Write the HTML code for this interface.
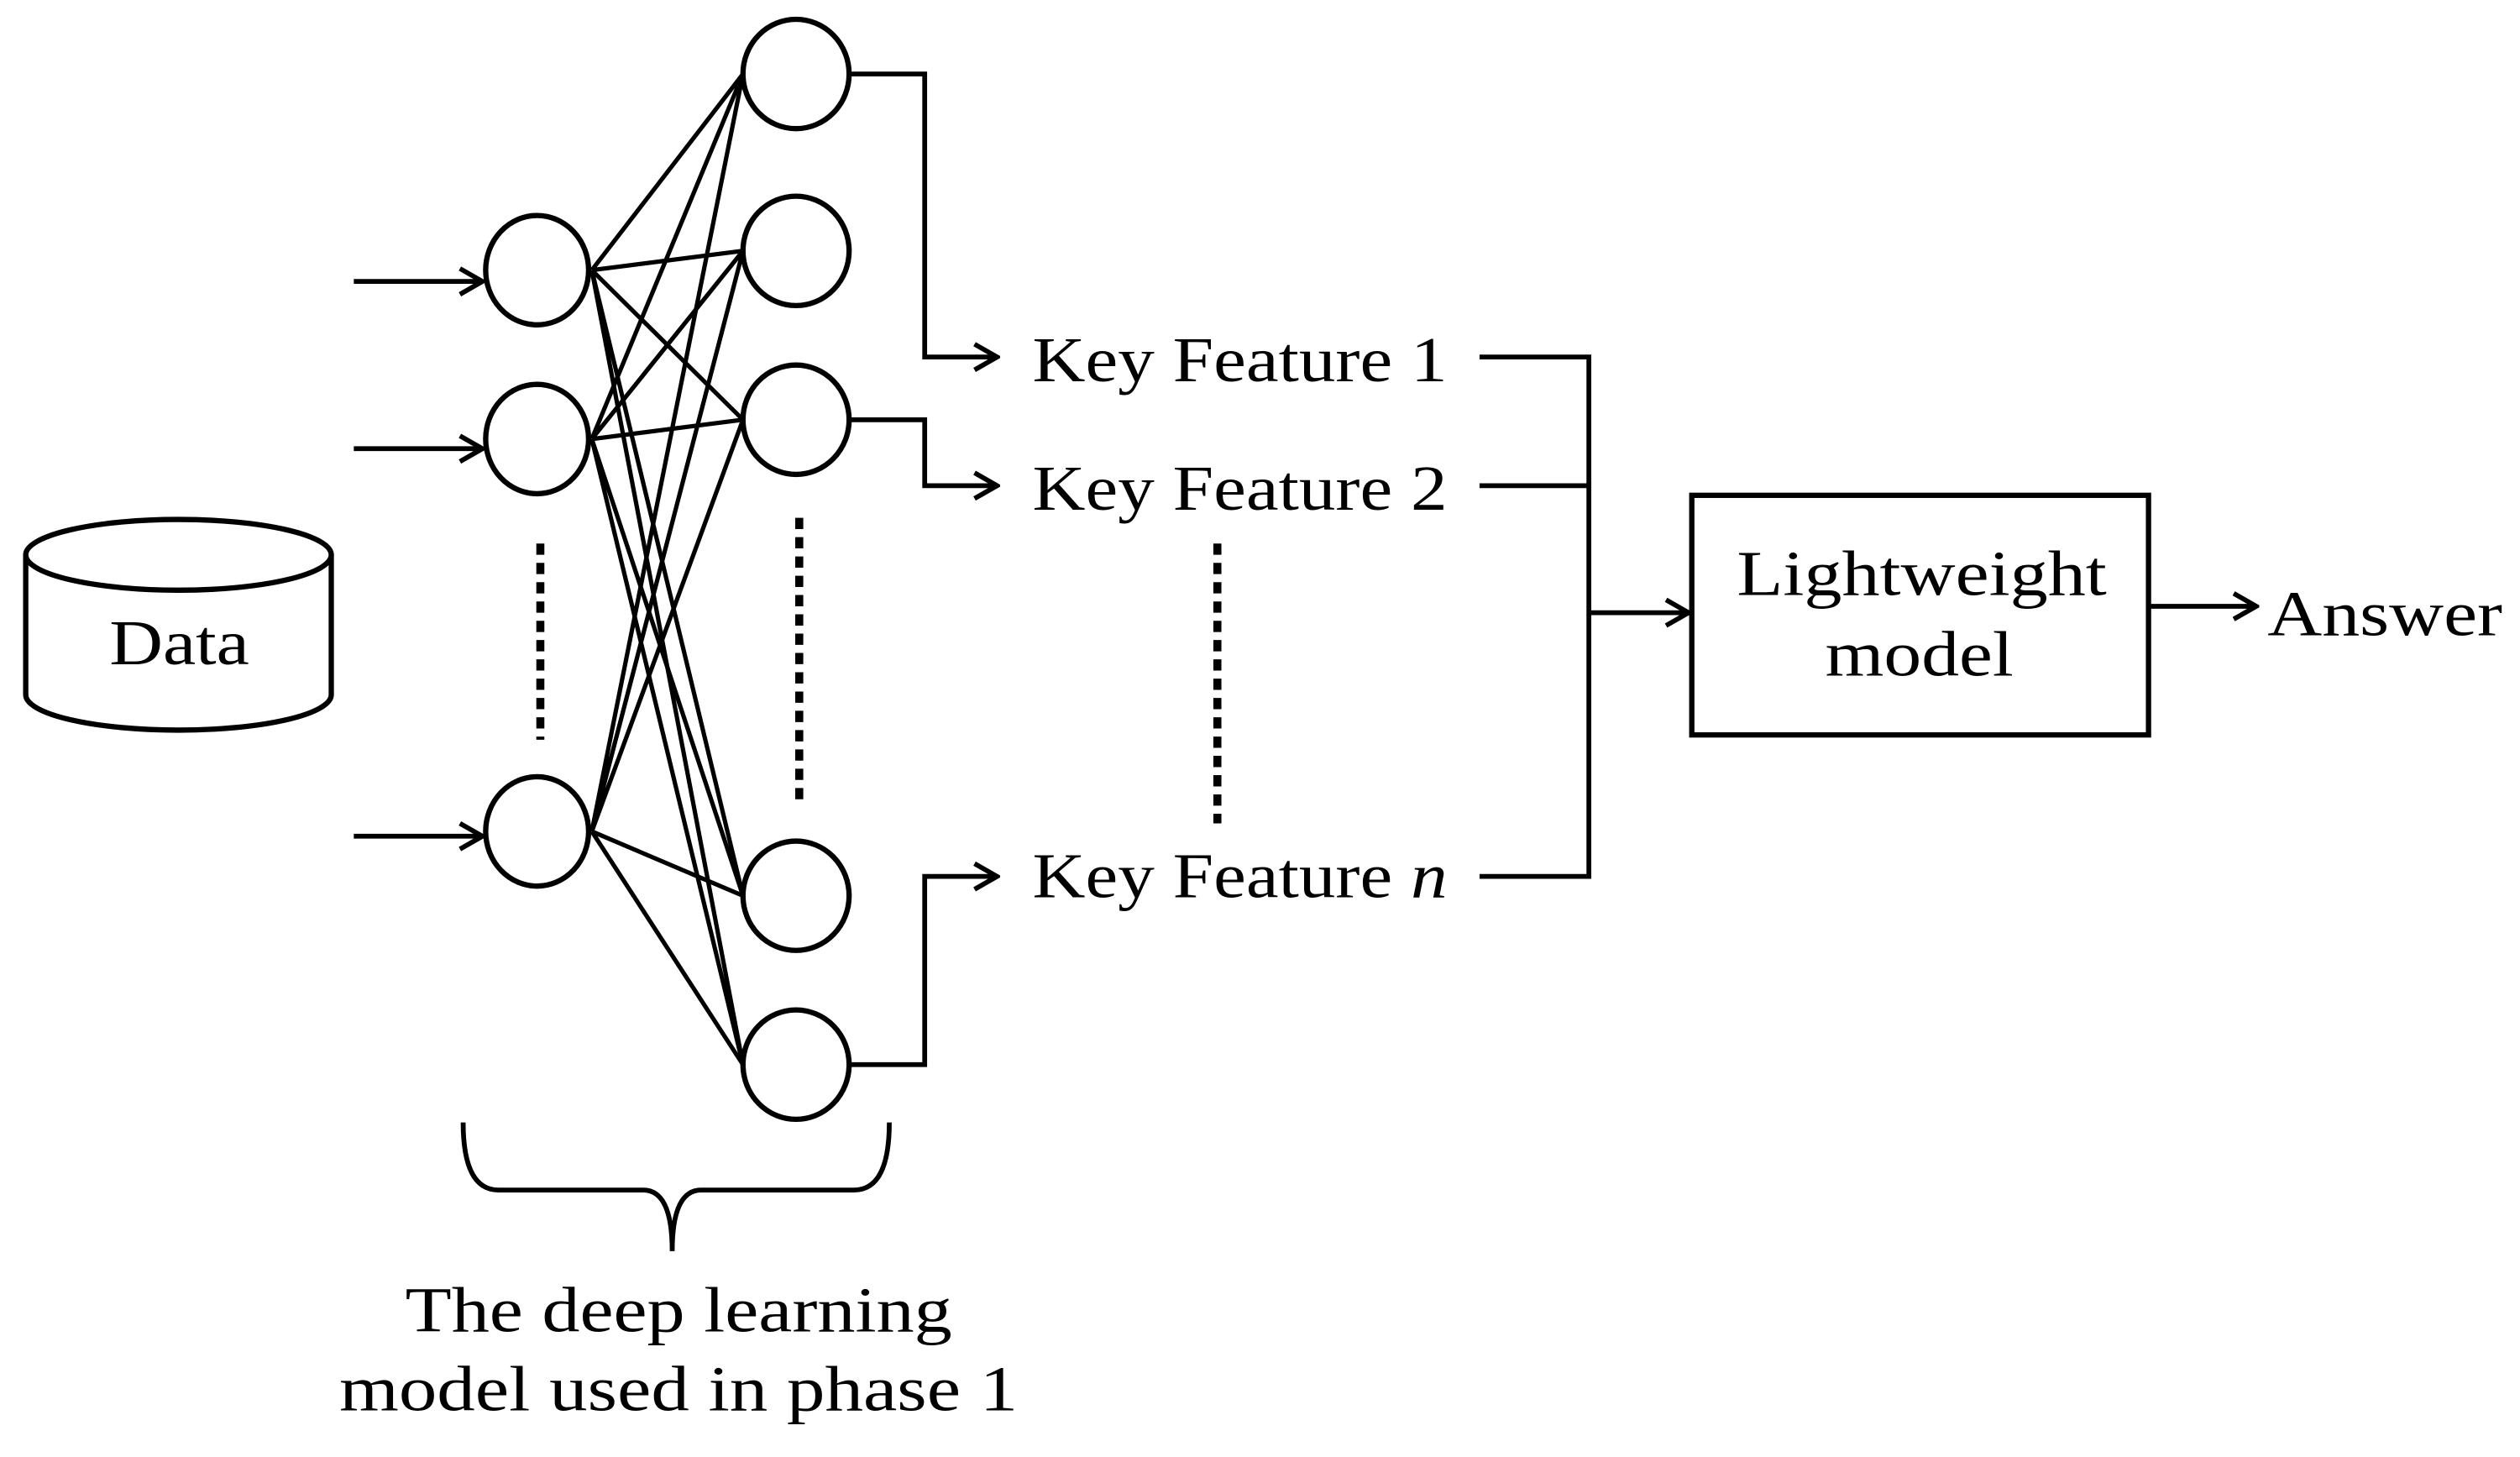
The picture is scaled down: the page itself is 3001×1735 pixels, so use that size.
<!DOCTYPE html>
<html><head><style>html,body{margin:0;padding:0;background:#fff}svg{display:block}</style></head>
<body>
<svg width="3001" height="1735" viewBox="0 0 1567 906" preserveAspectRatio="none" xmlns="http://www.w3.org/2000/svg">
<defs><marker id="a" viewBox="0 0 20 20" refX="18" refY="10" markerWidth="20" markerHeight="20" markerUnits="userSpaceOnUse" orient="auto"><path d="M4 2 L18 10 L4 18" fill="none" stroke="#000" stroke-width="3"/></marker></defs>
<g stroke="#000" stroke-width="3" fill="none">
<line x1="220" y1="175" x2="300" y2="175" marker-end="url(#a)"/>
<line x1="220" y1="279" x2="300" y2="279" marker-end="url(#a)"/>
<line x1="220" y1="520" x2="300" y2="520" marker-end="url(#a)"/>
<g stroke-width="2.7">
<path d="M368 168 L462 46 M368 168 L462 156 M368 168 L462 261 M368 168 L462 557 M368 168 L462 662"/>
<path d="M368 273 L462 46 M368 273 L462 156 M368 273 L462 261 M368 273 L462 557 M368 273 L462 662"/>
<path d="M368 517 L462 46 M368 517 L462 156 M368 517 L462 261 M368 517 L462 557 M368 517 L462 662"/>
</g>
<g fill="#fff" stroke-width="3.3">
<ellipse cx="334" cy="168" rx="32" ry="34"/>
<ellipse cx="334" cy="273" rx="32" ry="34"/>
<ellipse cx="334" cy="517" rx="32" ry="34"/>
<ellipse cx="495" cy="46" rx="33" ry="34"/>
<ellipse cx="495" cy="156" rx="33" ry="34"/>
<ellipse cx="495" cy="261" rx="33" ry="34"/>
<ellipse cx="495" cy="557" rx="33" ry="34"/>
<ellipse cx="495" cy="662" rx="33" ry="34"/>
</g>
<g stroke-width="5" stroke-dasharray="7 5">
<line x1="336" y1="338" x2="336" y2="460"/>
<line x1="497" y1="322" x2="497" y2="498"/>
<line x1="757" y1="338" x2="757" y2="512"/>
</g>
<path d="M528 46 H575 V222 H620" marker-end="url(#a)"/>
<path d="M528 261 H575 V302 H620" marker-end="url(#a)"/>
<path d="M528 662 H575 V545 H620" marker-end="url(#a)"/>
<path d="M920 222 H988 V545 H920 M920 302 H988"/>
<line x1="988" y1="381" x2="1050" y2="381" marker-end="url(#a)"/>
<rect x="1052" y="308" width="284" height="149" stroke-width="3.3"/>
<line x1="1336" y1="377" x2="1403" y2="377" marker-end="url(#a)"/>
<path d="M16 345 V432 A95 22 0 0 0 206 432 V345" fill="#fff" stroke-width="3.3"/>
<ellipse cx="111" cy="345" rx="95" ry="22" fill="#fff" stroke-width="3.3"/>
<path d="M288 698 Q288 740 310 740 H400 Q418 740 418 778 Q418 740 436 740 H531 Q553 740 553 698"/>
</g>
<g font-family="'Liberation Serif', serif" font-size="40" fill="#000" lengthAdjust="spacingAndGlyphs">
<text x="642" y="237" textLength="258" lengthAdjust="spacingAndGlyphs">Key Feature 1</text>
<text x="642" y="317" textLength="258" lengthAdjust="spacingAndGlyphs">Key Feature 2</text>
<text x="642" y="558" textLength="258" lengthAdjust="spacingAndGlyphs">Key Feature <tspan font-style="italic">n</tspan></text>
<text x="1080" y="370" textLength="230" lengthAdjust="spacingAndGlyphs">Lightweight</text>
<text x="1135" y="420" textLength="117" lengthAdjust="spacingAndGlyphs">model</text>
<text x="1410" y="395" textLength="146" lengthAdjust="spacingAndGlyphs">Answer</text>
<text x="68" y="413" textLength="87" lengthAdjust="spacingAndGlyphs">Data</text>
<text x="252" y="828" textLength="340" lengthAdjust="spacingAndGlyphs">The deep learning</text>
<text x="211" y="877" textLength="422" lengthAdjust="spacingAndGlyphs">model used in phase 1</text>
</g>
</svg>
</body></html>
